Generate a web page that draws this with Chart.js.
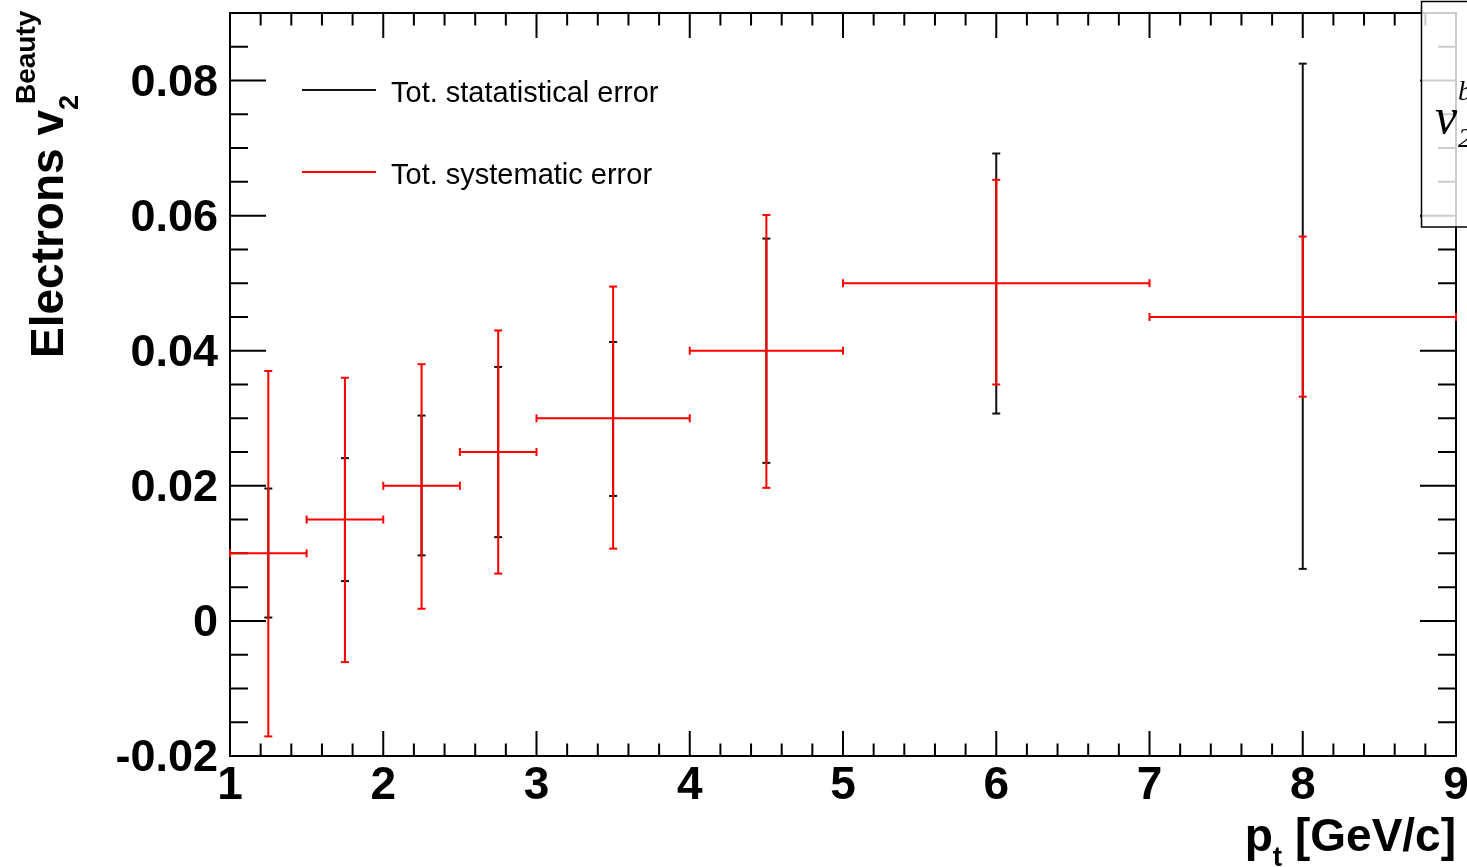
<!DOCTYPE html>
<html>
<head>
<meta charset="utf-8">
<script src="https://cdn.jsdelivr.net/npm/chart.js@4/dist/chart.umd.min.js"></script>
<style>
body{margin:0;background:#fff}
</style>
</head>
<body>
<canvas id="myChart" width="1467" height="867"></canvas>
<script>
// bins in pt (GeV/c)
var ptCenter = [1.25, 1.75, 2.25, 2.75, 3.5, 4.5, 6, 8];
var ptLow = [1, 1.5, 2, 2.5, 3, 4, 5, 7];
var ptHigh = [1.5, 2, 2.5, 3, 4, 5, 7, 9];
// v2 values and error ranges
var v2 = [0.010, 0.015, 0.020, 0.025, 0.030, 0.040, 0.050, 0.045];
var statLow = [0.0005, 0.0059, 0.0097, 0.0124, 0.0185, 0.0234, 0.0307, 0.0077];
var statHigh = [0.0196, 0.0241, 0.0304, 0.0376, 0.0413, 0.0566, 0.0692, 0.0825];
var sysLow = [-0.0171, -0.0061, 0.0018, 0.0070, 0.0107, 0.0197, 0.0350, 0.0332];
var sysHigh = [0.0370, 0.0360, 0.0380, 0.0430, 0.0495, 0.0601, 0.0653, 0.0569];
var yTickLabels = [-0.02, 0, 0.02, 0.04, 0.06, 0.08];
var xTickLabels = [1, 2, 3, 4, 5, 6, 7, 8, 9];
var legendLabels = ['Tot. statatistical error', 'Tot. systematic error'];

var statColor = '#111';
var sysColor = '#ff0000';

Chart.defaults.font.family = 'Liberation Sans, Arial, sans-serif';

//vertical bars: lo,hi,gap per bin
function vBars(lo, hi) {
  var out = [];
  ptCenter.forEach(function(c, i) {
    out.push({x: c, y: lo[i]}, {x: c, y: hi[i]}, {x: c, y: null});
  });
  return out;
}
//horizontal bars across the bin width
function hBars() {
  var out = [];
  ptCenter.forEach(function(c, i) {
    out.push({x: ptLow[i], y: v2[i]}, {x: ptHigh[i], y: v2[i]}, {x: ptHigh[i], y: null});
  });
  return out;
}

function isMajorY(v) { return yTickLabels.some(function(t) { return Math.abs(t - v) < 1e-9; }); }
function isMajorX(v) { return xTickLabels.some(function(t) { return Math.abs(t - v) < 1e-9; }); }

function barSet(label, data, color, rot) {
  return {
    label: label,
    data: data,
    showLine: true,
    spanGaps: false,
    borderColor: color,
    borderWidth: 2,
    pointStyle: 'line',
    pointRotation: rot,
    pointRadius: 4,
    pointBorderWidth: 2,
    pointBorderColor: color,
    pointBackgroundColor: color,
    clip: false
  };
}

var rootFrame = {
  id: 'rootFrame',
  beforeDatasetsDraw: function(chart) {
    var ctx = chart.ctx, a = chart.chartArea;
    var xs = chart.scales.x, ys = chart.scales.y;
    ctx.save();
    ctx.strokeStyle = '#000';
    ctx.lineWidth = 2;
    ctx.strokeRect(a.left, a.top, a.right - a.left, a.bottom - a.top);
    ctx.beginPath();
    xs.ticks.forEach(function(t) {
      var px = xs.getPixelForValue(t.value);
      var len = isMajorX(t.value) ? 25 : 12.5;
      ctx.moveTo(px, a.bottom); ctx.lineTo(px, a.bottom - len);
      ctx.moveTo(px, a.top); ctx.lineTo(px, a.top + len);
    });
    ys.ticks.forEach(function(t) {
      var py = ys.getPixelForValue(t.value);
      var len = isMajorY(t.value) ? 36 : 18;
      ctx.moveTo(a.left, py); ctx.lineTo(a.left + len, py);
      ctx.moveTo(a.right, py); ctx.lineTo(a.right - len, py);
    });
    ctx.stroke();
    ctx.restore();
  },
  afterDraw: function(chart) {
    var ctx = chart.ctx;
    ctx.save();
    // legend
    var colors = [statColor, sysColor];
    var ly = [90, 172];
    ctx.lineWidth = 2;
    ctx.font = '29px Liberation Sans';
    ctx.textBaseline = 'middle';
    ctx.fillStyle = '#000';
    legendLabels.forEach(function(l, i) {
      ctx.strokeStyle = colors[i];
      ctx.beginPath(); ctx.moveTo(302, ly[i]); ctx.lineTo(376, ly[i]); ctx.stroke();
      ctx.fillText(l, 391, ly[i] + 4);
    });

    // y title (rotated)
    ctx.save();
    ctx.translate(63, 358);
    ctx.rotate(-Math.PI / 2);
    ctx.textBaseline = 'alphabetic';
    ctx.textAlign = 'left';
    ctx.font = 'bold 46px Liberation Sans';
    ctx.fillText('Electrons v', 0, 0);
    var w = ctx.measureText('Electrons v').width;
    ctx.font = 'bold 27px Liberation Sans';
    ctx.fillText('2', w, 15);
    ctx.font = 'bold 28px Liberation Sans';
    ctx.fillText('Beauty', w + 6, -28);
    ctx.restore();

    // x title
    ctx.textBaseline = 'alphabetic';
    ctx.textAlign = 'right';
    ctx.font = 'bold 46px Liberation Sans';
    ctx.fillText(' [GeV/c]', 1456, 851);
    var gw = ctx.measureText(' [GeV/c]').width;
    ctx.font = 'bold 28px Liberation Sans';
    ctx.fillText('t', 1456 - gw, 866);
    var tw = ctx.measureText('t').width;
    ctx.font = 'bold 46px Liberation Sans';
    ctx.fillText('p', 1456 - gw - tw, 851);

    // partly hidden box at top right
    ctx.fillStyle = 'rgba(255,255,255,0.8)';
    ctx.fillRect(1421, 1, 60, 226);
    ctx.strokeStyle = '#000';
    ctx.lineWidth = 1.5;
    ctx.strokeRect(1421.5, 1.5, 60, 225.5);
    ctx.fillStyle = '#000';
    ctx.textAlign = 'left';
    ctx.font = 'italic 50px Liberation Serif';
    ctx.fillText('v', 1435, 133);
    ctx.font = 'italic 28px Liberation Serif';
    ctx.fillText('b', 1458, 100);
    ctx.fillText('2', 1458, 147);
    ctx.restore();
  }
};

var ctx = document.getElementById('myChart');
var myChart = new Chart(ctx, {
  type: 'scatter',
  data: {
    datasets: [
      barSet(legendLabels[1], hBars(), sysColor, 90),
      barSet(legendLabels[1], vBars(sysLow, sysHigh), sysColor, 0),
      barSet(legendLabels[0], vBars(statLow, statHigh), statColor, 0)
    ]
  },
  options: {
    responsive: false,
    animation: false,
    events: [],
    layout: { padding: { left: 0, right: 11, top: 13, bottom: 0 } },
    plugins: { legend: { display: false }, tooltip: { enabled: false } },
    scales: {
      x: {
        type: 'linear',
        min: 1, max: 9,
        grid: { display: false, drawTicks: false },
        border: { display: false },
        ticks: {
          stepSize: 0.2,
          autoSkip: false,
          maxRotation: 0,
          padding: 3,
          color: '#000',
          font: { size: 46, weight: 'bold' },
          callback: function(v) { return isMajorX(v) ? String(Math.round(v)) : ''; }
        },
        afterFit: function(s) { s.height = 111; s.paddingLeft = 0; s.paddingRight = 0; }
      },
      y: {
        min: -0.02, max: 0.09,
        grid: { display: false, drawTicks: false },
        border: { display: false },
        ticks: {
          stepSize: 0.005,
          autoSkip: false,
          padding: 12,
          labelOffset: 3,
          color: '#000',
          font: { size: 45, weight: 'bold' },
          callback: function(v) {
            var m = yTickLabels.find(function(t) { return Math.abs(t - v) < 1e-9; });
            return m === undefined ? '' : String(m);
          }
        },
        afterFit: function(s) { s.width = 230; s.paddingTop = 0; s.paddingBottom = 0; }
      }
    }
  },
  plugins: [rootFrame]
});
</script>
</body>
</html>
